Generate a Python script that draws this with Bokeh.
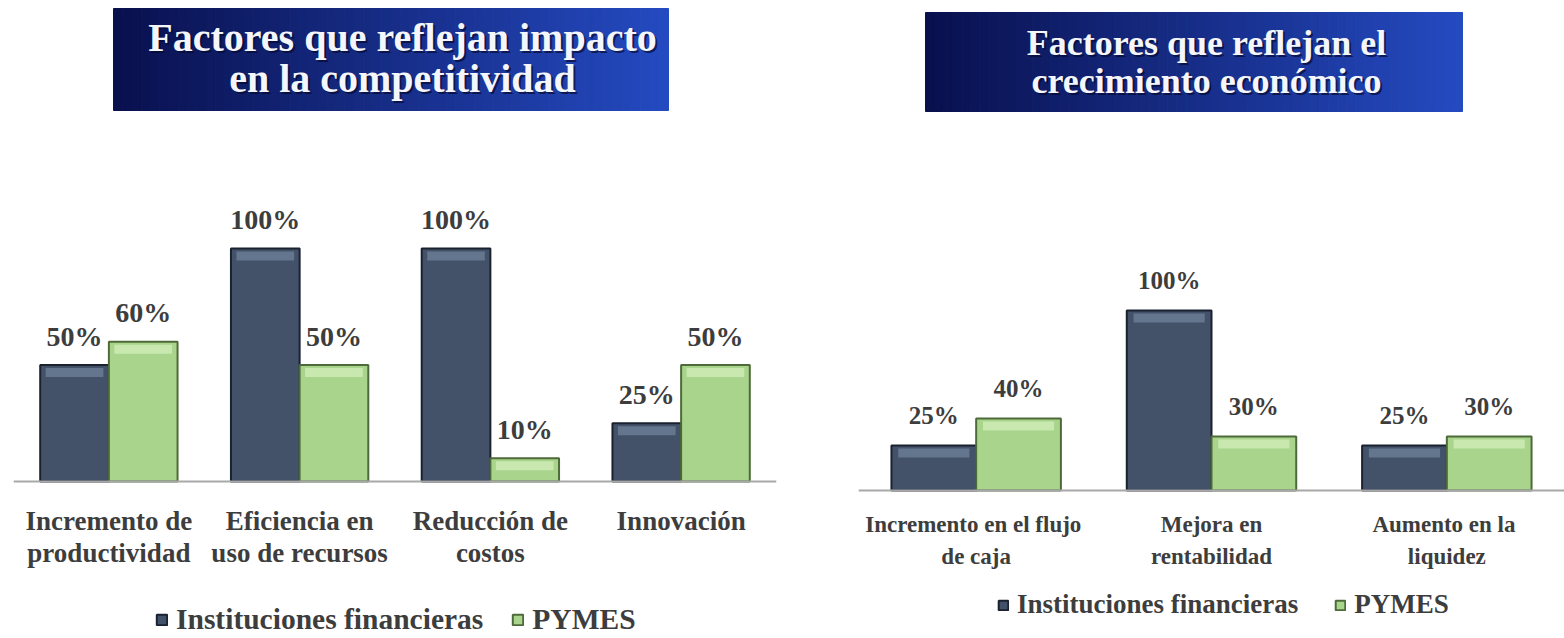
import numpy as np
from bokeh.plotting import figure
from bokeh.models import FactorRange, Range1d, Legend, LegendItem, ColumnDataSource, Span
from bokeh.transform import dodge
from bokeh.layouts import row
from bokeh.embed import file_html
from bokeh.resources import INLINE
from bokeh.core.properties import value

# ---------------- data ----------------
series = ["Instituciones financieras", "PYMES"]

left_title = ["Factores que reflejan impacto", "en la competitividad"]
left_cats = ["Incremento de\nproductividad", "Eficiencia en\nuso de recursos",
             "Reducción de\ncostos", "Innovación"]
left_inst = [50, 100, 100, 25]
left_pymes = [60, 50, 10, 50]

right_title = ["Factores que reflejan el", "crecimiento económico"]
right_cats = ["Incremento  en el flujo\nde caja", "Mejora en\nrentabilidad",
              "Aumento  en la\nliquidez"]
right_inst = [25, 100, 25]
right_pymes = [40, 30, 30]

# ---------------- style ----------------
DARK = "#435269"
DARK_EDGE = "#1a2230"
DARK_HI = "#64758e"
GREEN = "#a9d48c"
GREEN_EDGE = "#4f6a3a"
GREEN_HI = "#c8e8b0"
TXT = "#3d3d3d"
FONT = "Liberation Serif"
H = 638
BW = 0.36


def grad_colors(n, c0=(9, 16, 78), c1=(36, 74, 192)):
    out = []
    for t in np.linspace(0, 1, n):
        r, g, b = (int(round(a + (bb - a) * t)) for a, bb in zip(c0, c1))
        out.append(f"#{r:02x}{g:02x}{b:02x}")
    return out


def make_chart(cats, inst, pymes, title_lines, fig_x0, width, bl, br, base_py,
               ppu, box_px, title_cx, title_cy, title_size, val_size, val_off,
               cat_size, cat_cy, leg_size, leg_loc, leg_spacing, leg_glyph):
    frame_w = width - bl - br
    ncat = len(cats)

    def X(px):
        return (px - fig_x0 - bl) / (frame_w / ncat)

    def Y(py):
        return (base_py - py) / ppu

    p = figure(x_range=FactorRange(factors=cats, range_padding=0),
               y_range=Range1d(Y(H), Y(0)), width=width, height=H,
               output_backend="svg", toolbar_location=None,
               x_axis_location=None, y_axis_location=None,
               min_border_left=bl, min_border_right=br, min_border_top=0,
               min_border_bottom=0)
    p.outline_line_color = None
    p.grid.visible = False
    p.background_fill_color = "white"
    p.border_fill_color = "white"

    # title box with horizontal gradient
    x0, x1, y0, y1 = X(box_px[0]), X(box_px[1]), Y(box_px[3]), Y(box_px[2])
    n = 60
    edges = np.linspace(x0, x1, n + 1)
    cols = grad_colors(n)
    p.quad(left=edges[:-1], right=edges[1:], bottom=y0, top=y1,
           fill_color=cols, line_color=cols, line_width=1)
    for line, cy in zip(title_lines, title_cy):
        p.text(x=[X(title_cx)], y=[Y(cy)], text=[line], text_align="center",
               text_baseline="middle", text_font=value(FONT), x_offset=2,
               y_offset=2, text_font_style="bold",
               text_font_size=f"{title_size}px", text_color="#050a30",
               text_alpha=0.7)
        p.text(x=[X(title_cx)], y=[Y(cy)], text=[line], text_align="center",
               text_baseline="middle", text_font=value(FONT),
               text_font_style="bold", text_font_size=f"{title_size}px",
               text_color="#f4f6fb")

    # baseline (category axis line)
    p.add_layout(Span(location=0, dimension="width", line_color="#a8a8a8",
                      line_width=2))

    src = ColumnDataSource(dict(
        cat=cats, inst=inst, pymes=pymes,
        li=[f"{v}%" for v in inst], lp=[f"{v}%" for v in pymes],
        inst_hi_top=[v - 3 / ppu for v in inst],
        inst_hi_bot=[v - 12 / ppu for v in inst],
        pymes_hi_top=[v - 3 / ppu for v in pymes],
        pymes_hi_bot=[v - 12 / ppu for v in pymes],
        l1=[c.split("\n")[0] for c in cats],
        l2=[c.split("\n")[1] if "\n" in c else "" for c in cats]))

    xi = dodge("cat", -BW / 2, range=p.x_range)
    xp = dodge("cat", BW / 2, range=p.x_range)
    r1 = p.vbar(x=xi, top="inst", width=BW, source=src, fill_color=DARK,
                line_color=DARK_EDGE, line_width=2)
    r2 = p.vbar(x=xp, top="pymes", width=BW, source=src, fill_color=GREEN,
                line_color=GREEN_EDGE, line_width=2)
    # bevel highlight near the top of each bar
    p.vbar(x=xi, top="inst_hi_top", bottom="inst_hi_bot", width=BW * 0.84,
           source=src, fill_color=DARK_HI, line_color=None)
    p.vbar(x=xp, top="pymes_hi_top", bottom="pymes_hi_bot", width=BW * 0.84,
           source=src, fill_color=GREEN_HI, line_color=None)

    for col, lab, xx in (("inst", "li", xi), ("pymes", "lp", xp)):
        p.text(x=xx, y=col, text=lab, source=src,
               text_align="center", text_baseline="middle", y_offset=-val_off,
               text_font=value(FONT), text_font_style="bold",
               text_font_size=f"{val_size}px", text_color=TXT)

    # category labels (two lines) under the baseline
    for lab, dy in (("l1", cat_cy[0]), ("l2", cat_cy[1])):
        p.text(x="cat", y=0, text=lab, source=src, text_align="center",
               text_baseline="middle", y_offset=dy, text_font=value(FONT),
               text_font_style="bold", text_font_size=f"{cat_size}px",
               text_color=TXT)

    leg = Legend(items=[LegendItem(label=series[0], renderers=[r1]),
                        LegendItem(label=series[1], renderers=[r2])],
                 orientation="horizontal", location=leg_loc,
                 border_line_color=None, background_fill_alpha=0,
                 glyph_width=leg_glyph, glyph_height=leg_glyph, label_standoff=8,
                 spacing=leg_spacing, padding=0, margin=0,
                 label_text_font=FONT, label_text_font_style="bold",
                 label_text_font_size=f"{leg_size}px", label_text_color=TXT)
    p.add_layout(leg, "center")
    return p


left = make_chart(left_cats, left_inst, left_pymes, left_title,
                  fig_x0=0, width=782, bl=13, br=6, base_py=481, ppu=2.33,
                  box_px=(113, 668, 8, 110), title_cx=402, title_cy=(37, 78),
                  title_size=40, val_size=28, val_off=29,
                  cat_size=27, cat_cy=(39, 71), leg_size=29.5,
                  leg_loc=(142, 2), leg_spacing=28, leg_glyph=13)
right = make_chart(right_cats, right_inst, right_pymes, right_title,
                   fig_x0=782, width=782, bl=76, br=0, base_py=490, ppu=1.8,
                   box_px=(925, 1462, 12, 111), title_cx=1206, title_cy=(42, 80),
                   title_size=36, val_size=25, val_off=30,
                   cat_size=23, cat_cy=(34, 66), leg_size=27,
                   leg_loc=(139, 18), leg_spacing=36, leg_glyph=12)

layout = row(left, right)
open("out.html", "w").write(file_html(layout, INLINE))
